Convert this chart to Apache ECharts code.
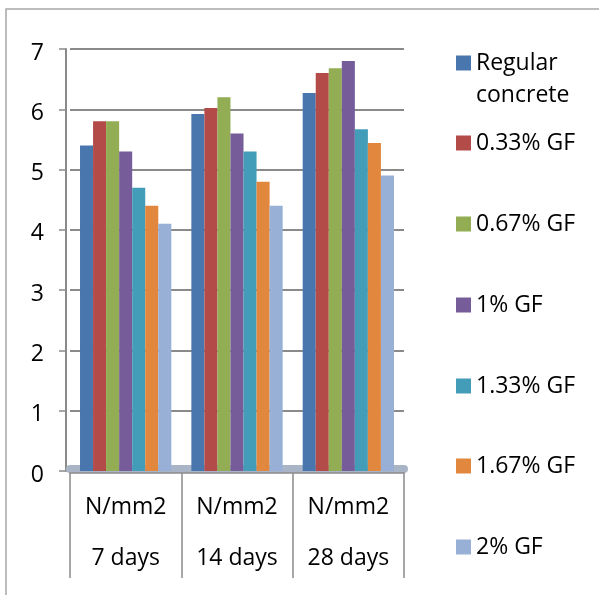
<!DOCTYPE html>
<html>
<head>
<meta charset="utf-8">
<script src="https://cdn.jsdelivr.net/npm/echarts@6/dist/echarts.min.js"></script>
<style>
  html, body { margin: 0; padding: 0; background: #fff; }
  #chart { width: 599px; height: 595px; }
</style>
</head>
<body>
<div id="chart"></div>
<script>
var categories = ['N/mm2\n7 days', 'N/mm2\n14 days', 'N/mm2\n28 days']
var seriesNames = ['Regular\nconcrete', '0.33% GF', '0.67% GF', '1% GF', '1.33% GF', '1.67% GF', '2% GF']
var regular = [5.4, 5.92, 6.27]
var gf033 = [5.8, 6.02, 6.6]
var gf067 = [5.8, 6.2, 6.68]
var gf1 = [5.3, 5.6, 6.8]
var gf133 = [4.7, 5.3, 5.67]
var gf167 = [4.4, 4.8, 5.44]
var gf2 = [4.1, 4.4, 4.9]
var yTicks = [0, 1, 2, 3, 4, 5, 6, 7]

var values = [regular, gf033, gf067, gf1, gf133, gf167, gf2]
var colors = ['#4a76ae', '#b34b48', '#93ad55', '#765c98', '#449db8', '#e2883e', '#98afd6']
var legendTops = [15, 127, 208, 289, 370, 450, 531]

var font = '"Open Sans", "Noto Sans", sans-serif'

var chart = echarts.init(document.getElementById('chart'))

var legends = seriesNames.map(function (name, i) {
    return {
        data: [name],
        left: 456,
        top: legendTops[i],
        itemWidth: 15,
        itemHeight: 15,
        icon: 'rect',
        selectedMode: false,
        padding: 0,
        // empty first line so "Regular" sits level with the swatch
        formatter: i === 0 ? '\n{name}' : '{name}',
        textStyle: {
            fontFamily: font,
            fontSize: 23,
            color: '#000',
            lineHeight: 32
        }
    }
})

chart.setOption({
    animation: false,
    graphic: [{
        type: 'rect',
        shape: { x: 6, y: 9, width: 620, height: 620 },
        style: { fill: 'none', stroke: '#a8a8a8', lineWidth: 1.5 },
        silent: true
    }],
    legend: legends,
    grid: {
        left: 70,
        right: 195,
        top: 49,
        bottom: 124,
        outerBoundsMode: 'none'
    },
    xAxis: [{
        // floor
        type: 'category',
        position: 'bottom',
        data: categories,
        offset: -2,
        axisLine: { show: true, lineStyle: { color: '#a9b5c7', width: 8 } },
        axisTick: { show: false },
        axisLabel: { show: false }
    }, {
        type: 'category',
        position: 'bottom',
        data: categories,
        offset: 2,
        axisLine: { show: true, lineStyle: { color: '#8a8a8a', width: 1.5 } },
        axisTick: { show: true, length: 105, lineStyle: { color: '#8a8a8a', width: 1.5 } },
        axisLabel: {
            fontFamily: font,
            fontSize: 23,
            color: '#000',
            lineHeight: 51,
            margin: 9
        }
    }],
    yAxis: {
        type: 'value',
        min: yTicks[0],
        max: yTicks[yTicks.length - 1],
        interval: 1,
        offset: 4,
        axisLine: { show: true, lineStyle: { color: '#8a8a8a', width: 2 } },
        axisTick: { show: true, length: 7, lineStyle: { color: '#8a8a8a', width: 1.5 } },
        axisLabel: {
            fontFamily: font,
            fontSize: 23,
            color: '#000',
            margin: 22,
            verticalAlign: 'top',
            lineHeight: 8
        },
        splitLine: { show: true, lineStyle: { color: '#8a8a8a', width: 1.8 } }
    },
    series: seriesNames.map(function (name, i) {
        return {
            name: name,
            type: 'bar',
            xAxisIndex: 1,
            barGap: 0,
            barCategoryGap: '18%',
            data: values[i],
            itemStyle: { color: colors[i] }
        }
    })
})
</script>
</body>
</html>
